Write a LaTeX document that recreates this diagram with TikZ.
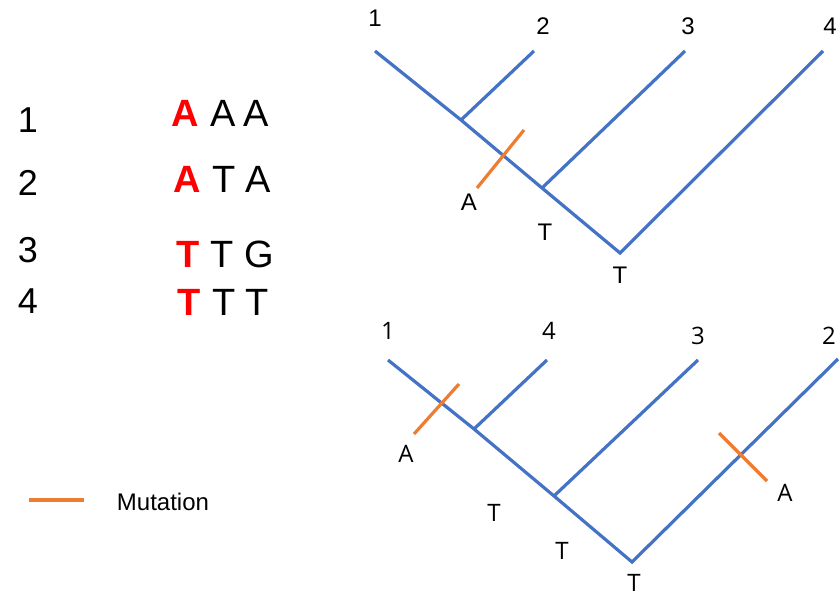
\documentclass[tikz,border=0pt]{standalone}
\usepackage{fontspec}
\setmainfont{Liberation Sans}
\newfontfamily\opensans{Open Sans}
\usetikzlibrary{positioning}
\definecolor{branchblue}{HTML}{4472C4}
\definecolor{mutorange}{HTML}{ED7D31}
\definecolor{sitered}{HTML}{FF0000}

\begin{document}
\begin{tikzpicture}[
  x=1pt, y=-1pt,
  branch/.style={draw=branchblue, line width=3.2pt},
  mut/.style={draw=mutorange, line width=3.2pt},
  seqid/.style={inner sep=0pt, font=\fontsize{36}{36}\selectfont},
  base/.style={inner sep=0pt, font=\fontsize{38}{38}\selectfont},
  site/.style={base, text=sitered, font=\fontsize{38}{38}\selectfont\bfseries},
  lbl/.style={inner sep=0pt, font=\fontsize{24}{24}\selectfont},
  olbl/.style={inner sep=0pt, font=\fontsize{24}{24}\selectfont\opensans},
]
  \useasboundingbox (0,0) rectangle (839,597);

  % alignment
  \foreach \i/\y in {1/120, 2/183, 3/250, 4/301}
    \node[seqid] (id\i) at (28,\y) {\i};
  \node[site] (s1a) at (185,113) {A};
  \node[base] (s1b) at (223,113) {A};
  \node[base] (s1c) at (256,113) {A};
  \node[site] (s2a) at (187,179) {A};
  \node[base] (s2b) at (224,179) {T};
  \node[base] (s2c) at (258,179) {A};
  \node[site] (s3a) at (188,254) {T};
  \node[base] (s3b) at (222,254) {T};
  \node[base] (s3c) at (259,254) {G};
  \node[site] (s4a) at (189,302) {T};
  \node[base] (s4b) at (224,302) {T};
  \node[base] (s4c) at (257,302) {T};

  % legend
  \coordinate (legA) at (29,500);
  \coordinate (legB) at (84,500);
  \draw[mut] (legA) -- (legB);
  \node[lbl] (legtxt) at (163,502) {Mutation};

  % tree ((1,2),3),4
  \coordinate (a1) at (375,51);
  \coordinate (a2) at (534,51);
  \coordinate (a3) at (685,51);
  \coordinate (a4) at (823,51);
  \coordinate (a12) at (461,120);
  \coordinate (a123) at (542,188);
  \coordinate (aroot) at (620,253);
  \draw[branch] (a1) -- (a12) -- (a123) -- (aroot) -- (a4);
  \draw[branch] (a12) -- (a2);
  \draw[branch] (a123) -- (a3);
  \coordinate (am1) at (477,188);
  \coordinate (am2) at (524,130);
  \draw[mut] (am1) -- (am2);
  \node[lbl] (la1) at (375,18) {1};
  \node[lbl] (la2) at (543,26) {2};
  \node[lbl] (la3) at (688,26) {3};
  \node[lbl] (la4) at (830,26) {4};
  \node[lbl] (lamA) at (469,202) {A};
  \node[lbl] (laT1) at (545,232) {T};
  \node[lbl] (laT2) at (620,275) {T};

  % tree ((1,4),3),2
  \coordinate (b1) at (388,360);
  \coordinate (b4) at (547,360);
  \coordinate (b3) at (698,360);
  \coordinate (b2) at (838,359);
  \coordinate (b14) at (474,429);
  \coordinate (b143) at (554,496);
  \coordinate (broot) at (632,562);
  \draw[branch] (b1) -- (b14) -- (b143) -- (broot) -- (b2);
  \draw[branch] (b14) -- (b4);
  \draw[branch] (b143) -- (b3);
  \coordinate (bm1) at (414,434);
  \coordinate (bm2) at (459,384);
  \draw[mut] (bm1) -- (bm2);
  \coordinate (bm3) at (719,433);
  \coordinate (bm4) at (767,481);
  \draw[mut] (bm3) -- (bm4);
  \node[olbl] (lb1) at (388,331) {1};
  \node[olbl] (lb4) at (549,331) {4};
  \node[olbl] (lb3) at (698,336) {3};
  \node[olbl] (lb2) at (829,336) {2};
  \node[olbl] (lbmA1) at (406,454) {A};
  \node[olbl] (lbmA2) at (785,493) {A};
  \node[olbl] (lbT1) at (494,513) {T};
  \node[olbl] (lbT2) at (562,551) {T};
  \node[olbl] (lbT3) at (634,583) {T};
\end{tikzpicture}
\end{document}
